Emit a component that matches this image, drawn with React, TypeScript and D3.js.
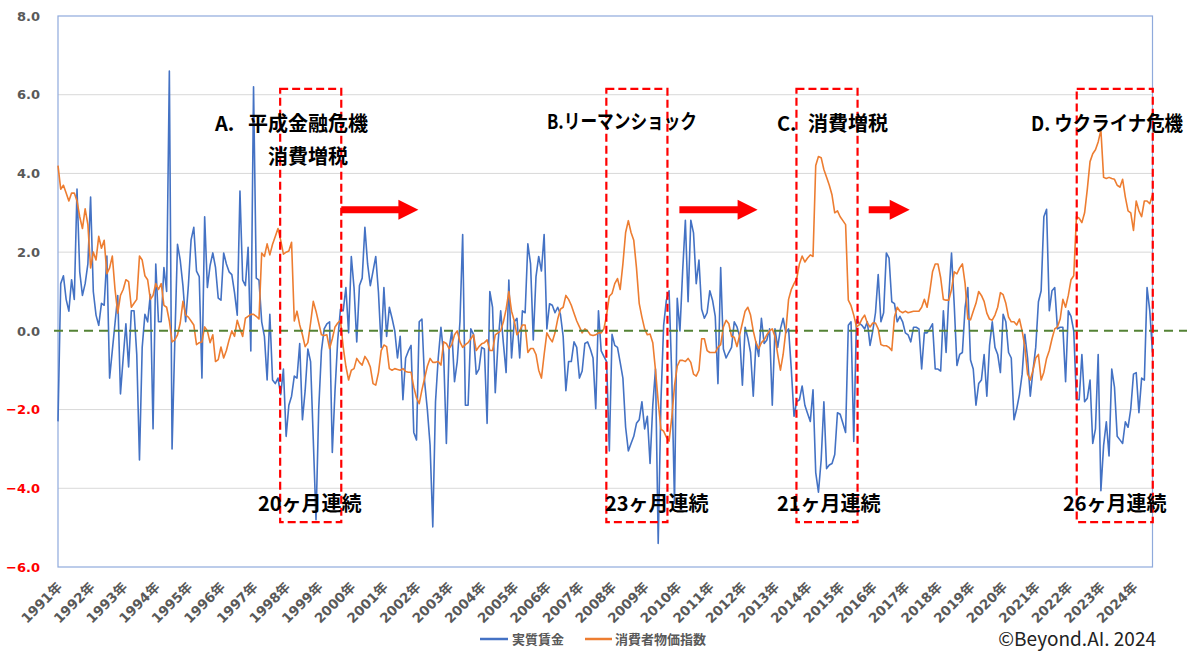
import * as d3 from "d3"

// 実質賃金 (前年同月比 %), 1991年1月〜2024年8月
const realWage: number[] = [
  -2.3, 1.2, 1.4, 0.8, 0.5, 1.3, 0.8, 3.6, 1.5, 0.9, 1.2, 1.7,
  3.4, 1.0, 0.4, 0.14, 0.7, 0.65, 1.9, -1.2, -0.5, 0.2, 0.9, -1.6,
  -0.69, 0.18, -0.92, 0.51, 0.51, -0.6, -3.28, -0.42, 0.42, 0.23, 0.92, -2.49,
  1.7, 0.23, 0.23, 1.61, 1.0, 6.6, -3.0, -0.28, 2.2, 1.8, 1.15, 0.23,
  1.15, 2.31, 2.63, 1.52, 1.38, -1.2, 2.9, 1.1, 1.66, 1.98, 1.61, 0.83,
  0.78, 1.98, 1.7, 1.5, 1.43, 0.97, 0.4, 3.55, 1.29, 1.15, 2.12, -0.51,
  6.2, 1.34, 1.29, 0.23, -0.14, -1.25, 0.42, -1.25, -1.34, -1.2, -1.62, -0.97,
  -2.68, -1.89, -1.66, -1.15, -1.2, -0.32, -2.26, -1.52, -0.46, -0.78, -2.77, -4.8,
  -1.98, -0.51, 0.05, 0.18, 0.23, -3.09, -1.52, -0.23, 0.55, 0.51, 1.1, -0.05,
  1.89, 1.1, -0.28, 1.15, 1.34, 2.63, 1.7, 1.15, 1.52, 1.89, 0.97, -0.42,
  1.1, -0.14, 0.6, 0.32, 0.0, -0.69, -0.14, -1.75, -0.69, -0.51, -0.37, -2.58,
  -2.77, 0.23, 0.3, -1.3, -2.0, -2.9, -4.98, -1.8, -0.69, 0.09, -0.6, -2.86,
  -0.46, 0.0, -1.29, -0.78, 0.23, 2.45, -1.89, -1.89, 0.05, -0.09, -1.1, -0.97,
  -0.42, -0.46, -2.35, 1.0, 0.6, -1.57, -0.32, 0.51, -0.32, -1.06, 1.29, -0.69,
  0.23, 0.32, -0.69, 0.51, 0.46, 2.21, 1.7, -0.23, 1.38, 1.89, 1.52, 2.45,
  0.05, 0.69, 0.65, 0.46, 0.6, 0.42, -0.14, -1.52, -0.78, -0.78, -0.28, -0.42,
  -1.2, -1.02, -0.32, -0.28, -0.46, -0.69, -1.98, 0.51, -0.51, -0.65, -0.78, -3.05,
  -0.09, -0.37, -0.42, -0.8, -1.2, -2.45, -3.05, -2.86, -2.68, -2.35, -2.26, -1.8,
  -2.49, -2.17, -3.37, -1.89, -0.97, -5.4, -1.8, 0.14, 0.78, 1.02, -1.15, -4.38,
  0.83, 0.0, 1.52, 2.81, 0.74, 2.81, 2.49, 1.2, 1.8, 0.55, 0.32, 0.46,
  1.02, 0.78, 0.37, -1.34, 1.61, -0.46, -0.69, -0.55, -0.42, 0.23, 0.1, -0.14,
  -1.38, 0.09, -0.18, -0.55, -1.66, -0.28, -0.65, 0.32, -0.32, -0.23, 0.05, -1.89,
  0.05, -0.42, 0.05, 0.32, -0.05, 0.05, -0.97, -2.17, -1.8, -1.75, -1.4, -1.89,
  -2.1, -2.3, -1.5, -3.6, -4.1, -3.28, -1.8, -3.5, -3.41, -3.37, -3.14, -2.08,
  -2.12, -2.35, -2.58, 0.14, 0.23, -2.81, 0.28, 0.2, 0.14, 0.05, 0.23, -0.37,
  0.0, 0.46, 1.43, 0.23, 0.46, 1.98, 1.85, 0.74, 0.69, 0.23, 0.37, 0.23,
  -0.05, -0.1, -0.28, 0.09, 0.09, 0.05, -0.97, -0.05, -0.05, 0.05, 0.18, -0.97,
  -0.97, -1.02, 0.51, -0.55, 0.88, 1.98, 0.65, -0.88, -0.6, -0.55, 0.6, 1.1,
  -0.74, -0.97, -1.89, -1.34, -1.25, -0.6, -1.66, -0.37, 0.23, -0.42, -0.6, -1.06,
  0.42, 0.23, -0.55, -0.69, -2.26, -1.98, -1.62, -1.1, -0.09, -0.69, -1.66, -1.0,
  -0.42, 0.74, 1.02, 2.9, 3.09, 0.51, 1.02, 1.1, 0.05, 0.09, 0.09, -1.29,
  0.51, 0.37, 0.0, -1.75, -1.75, -0.6, -1.8, -1.71, -1.25, -2.86, -2.49, -0.6,
  -4.06, -2.91, -2.31, -3.18, -0.97, -1.43, -2.68, -2.77, -2.86, -2.31, -2.45, -1.98,
  -1.1, -1.06, -2.08, -1.2, -1.25, 1.1, 0.51, -0.55,
]

// 消費者物価指数 (持家の帰属家賃を除く総合, 前年同月比 %)
const cpi: number[] = [
  4.2, 3.6, 3.7, 3.5, 3.3, 3.5, 3.5, 3.3, 2.9, 2.6, 3.1, 2.7,
  1.6, 2.0, 1.8, 2.4, 2.1, 2.3, 1.45, 1.6, 1.9, 1.05, 0.45, 0.9,
  1.05, 1.3, 1.25, 0.6, 0.7, 0.8, 1.9, 1.8, 1.4, 1.3, 0.8, 0.9,
  1.2, 1.05, 1.2, 0.65, 0.6, 0.25, -0.28, -0.23, -0.1, 0.2, 0.75, 0.4,
  0.35, 0.25, 0.15, -0.35, -0.3, -0.28, 0.1, 0.0, -0.3, -0.1, -0.78, -0.73,
  -0.41, -0.69, -0.5, -0.23, 0.0, -0.14, 0.27, 0.05, -0.14, 0.32, 0.37, 0.42,
  0.42, 0.37, 0.3, 1.98, 1.89, 2.21, 1.93, 2.2, 2.4, 2.6, 2.3, 1.95,
  2.0, 2.03, 2.25, 0.25, 0.5, 0.15, -0.1, -0.4, -0.3, 0.2, 0.75, 0.5,
  0.2, -0.1, -0.12, -0.1, -0.45, -0.2, 0.1, 0.2, 0.27, -0.4, -0.9, -1.25,
  -1.0, -0.96, -0.7, -0.8, -0.87, -0.65, -0.75, -0.92, -1.34, -1.38, -1.06, -0.5,
  -0.36, -0.4, -0.96, -1.0, -0.96, -0.98, -1.0, -0.96, -1.03, -1.05, -1.05, -1.43,
  -1.7, -1.85, -1.5, -1.2, -0.9, -0.7, -0.8, -0.8, -0.78, -0.87, -0.28, -0.32,
  -0.45, -0.35, -0.1, 0.0, -0.28, -0.42, -0.35, -0.3, -0.2, -0.1, -0.5, -0.4,
  -0.33, -0.3, -0.23, -0.5, -0.5, -0.1, -0.05, 0.0, 0.23, 0.55, 1.0, 0.5,
  0.25, -0.1, 0.0, 0.15, 0.15, -0.55, -0.45, -0.45, -0.6, -1.0, -1.2, -0.6,
  -0.05, -0.18, -0.28, -0.05, 0.3, 0.55, 0.6, 0.9, 0.8, 0.65, 0.45, 0.25,
  0.1, -0.05, 0.05, 0.0, -0.1, -0.12, -0.1, -0.05, -0.05, 0.05, 0.4, 0.88,
  0.95, 1.2, 1.33, 1.05, 1.7, 2.5, 2.8, 2.5, 2.3, 1.6, 0.7, 0.35,
  0.05, -0.1, -0.08, -0.3, -1.0, -1.8, -2.5, -2.55, -2.7, -2.8, -2.2, -1.4,
  -0.9, -0.75, -0.75, -0.78, -0.7, -0.8, -1.1, -1.15, -1.0, -0.2, -0.2, -0.5,
  -0.55, -0.55, -0.55, -0.42, -0.35, 0.1, 0.27, 0.18, -0.14, -0.16, -0.4, -0.1,
  0.2, 0.5, 0.6, 0.4, 0.0, -0.3, -0.45, -0.3, -0.23, -0.1, 0.0, 0.05,
  -0.14, -0.6, -1.0, -0.6, 0.0, 0.8, 1.05, 1.2, 1.33, 1.7, 1.9, 1.75,
  1.85, 1.93, 1.89, 4.2, 4.43, 4.4, 4.1, 3.9, 3.7, 3.45, 3.0, 3.05,
  2.9, 2.8, 2.7, 0.78, 0.64, 0.4, 0.1, 0.15, 0.3, 0.4, 0.2, 0.1,
  0.2, 0.2, 0.05, -0.35, -0.38, -0.38, -0.42, -0.5, 0.35, 0.6, 0.5, 0.46,
  0.5, 0.46, 0.48, 0.5, 0.5, 0.5, 0.6, 0.8, 0.6, 1.0, 1.5, 1.7,
  1.7, 1.35, 0.8, 0.78, 0.78, 1.05, 1.5, 1.45, 1.6, 1.7, 1.2, 0.3,
  0.28, 0.5, 0.7, 1.0, 0.9, 0.75, 0.45, 0.3, 0.27, 0.4, 0.6, 0.97,
  0.92, 0.7, 0.35, 0.23, 0.23, 0.15, 0.3, 0.0, -0.4, -1.1, -1.25, -1.0,
  -0.69, -0.6, -1.25, -1.05, -0.7, -0.5, -0.2, 0.05, 0.1, 0.3, 0.8, 0.6,
  0.9, 1.3, 1.4, 2.9, 2.86, 2.75, 3.0, 3.6, 4.3, 4.5, 4.6, 4.8,
  5.1, 3.9, 3.87, 3.9, 3.87, 3.85, 3.7, 3.65, 3.85, 3.4, 3.05, 3.0,
  2.55, 3.3, 3.05, 2.9, 3.3, 3.3, 3.23, 3.46,
]

const years = d3.range(1991, 2025)
const yTicks = [8, 6, 4, 2, 0, -2, -4, -6]

// 実質賃金マイナスの期間 (月インデックス)
const boxFrom = [81.8, 201.9, 271.9, 375.1]
const boxTo = [104.3, 224.4, 294.4, 403.1]
const arrowFrom = [104.3, 228.8, 298.5]
const arrowTo = [132.7, 257.6, 313.6]

const titles: { text: string; x: number; y: number; w?: number }[] = [
  { text: "A.", x: 215, y: 124 },
  { text: "平成金融危機", x: 248, y: 124 },
  { text: "消費増税", x: 268, y: 157 },
  { text: "B.リーマンショック", x: 547, y: 122, w: 150 },
  { text: "C.", x: 777, y: 124 },
  { text: "消費増税", x: 808, y: 124 },
  { text: "D. ウクライナ危機", x: 1031, y: 124, w: 152 },
  { text: "20ヶ月連続", x: 258, y: 504 },
  { text: "23ヶ月連続", x: 605, y: 504 },
  { text: "21ヶ月連続", x: 777, y: 504 },
  { text: "26ヶ月連続", x: 1063, y: 504 },
]

const W = 1200
const H = 661
const left = 58
const right = 1152.5
const top = 16
const bottom = 567

const BLUE = "#4472c4"
const ORANGE = "#ed7d31"
const JP = "'Noto Sans CJK JP', 'Noto Sans', sans-serif"
const NUM = "'DejaVu Sans', 'Noto Sans CJK JP', sans-serif"

export default function App() {
  const n = realWage.length
  const x = d3.scaleLinear().domain([0, n - 1]).range([left, right])
  const y = d3.scaleLinear().domain([-6, 8]).range([bottom, top])

  const line = d3
    .line<number>()
    .x((_, i) => x(i))
    .y((d) => y(d))

  const arrowLevel = 3.08

  return (
    <div style={{ position: "absolute", left: 0, top: 0 }}>
      <svg width={W} height={H} style={{ display: "block", background: "#fff" }}>
        {/* gridlines */}
        {yTicks
          .filter((t) => t !== 0 && t !== 8 && t !== -6)
          .map((t) => (
            <line key={t} x1={left} x2={right} y1={y(t)} y2={y(t)} stroke="#d9d9d9" strokeWidth={1} />
          ))}

        {/* plot border */}
        <rect
          x={left}
          y={top}
          width={right - left}
          height={bottom - top}
          fill="none"
          stroke="#8faadc"
          strokeWidth={1.2}
        />

        {/* y tick labels */}
        {yTicks.map((t) => (
          <text
            key={t}
            x={40}
            y={y(t)}
            dy="0.36em"
            textAnchor="end"
            fontFamily={NUM}
            fontWeight={700}
            fontSize={13}
            fill={t < 0 ? "#ff0000" : "#595959"}
          >
            {d3.format(".1f")(t)}
          </text>
        ))}

        {/* x tick labels */}
        {years.map((yr, k) => {
          const tx = x(k * 12) + 5
          const ty = 588
          return (
            <text
              key={yr}
              transform={`translate(${tx},${ty}) rotate(-45)`}
              textAnchor="end"
              fontFamily={NUM}
              fontWeight={700}
              fontSize={13.5}
              fill="#595959"
            >
              {yr}年
            </text>
          )
        })}

        {/* series */}
        <path d={line(realWage) ?? ""} fill="none" stroke={BLUE} strokeWidth={1.6} strokeLinejoin="round" />
        <path d={line(cpi) ?? ""} fill="none" stroke={ORANGE} strokeWidth={1.6} strokeLinejoin="round" />

        {/* zero line */}
        <line
          x1={54}
          x2={1187}
          y1={y(0)}
          y2={y(0)}
          stroke="#548235"
          strokeWidth={2}
          strokeDasharray="9,6"
        />

        {/* red dashed boxes */}
        {boxFrom.map((f, i) => (
          <rect
            key={i}
            x={x(f)}
            y={y(6.15)}
            width={x(boxTo[i]) - x(f)}
            height={y(-4.86) - y(6.15)}
            fill="none"
            stroke="#ff0000"
            strokeWidth={2.2}
            strokeDasharray="8,4"
          />
        ))}

        {/* arrows */}
        {arrowFrom.map((f, i) => {
          const x1 = x(f)
          const x2 = x(arrowTo[i])
          const cy = y(arrowLevel)
          const head = 20
          const p = d3.path()
          p.moveTo(x1, cy - 3.5)
          p.lineTo(x2 - head, cy - 3.5)
          p.lineTo(x2 - head, cy - 10)
          p.lineTo(x2, cy)
          p.lineTo(x2 - head, cy + 10)
          p.lineTo(x2 - head, cy + 3.5)
          p.lineTo(x1, cy + 3.5)
          p.closePath()
          return <path key={i} d={p.toString()} fill="#ff0000" />
        })}

        {/* annotations */}
        {titles.map((t, i) => (
          <text
            key={i}
            x={t.x}
            y={t.y}
            dy="0.36em"
            fontFamily={JP}
            fontWeight={700}
            fontSize={20}
            fill="#000"
            textLength={t.w}
            lengthAdjust={t.w ? "spacingAndGlyphs" : undefined}
          >
            {t.text}
          </text>
        ))}

        {/* legend */}
        <line x1={480} x2={508} y1={639} y2={639} stroke={BLUE} strokeWidth={2.5} />
        <text x={512} y={639} dy="0.36em" fontFamily={JP} fontWeight={700} fontSize={13} fill="#595959">
          実質賃金
        </text>
        <line x1={585} x2={612} y1={639} y2={639} stroke={ORANGE} strokeWidth={2.5} />
        <text x={615} y={639} dy="0.36em" fontFamily={JP} fontWeight={700} fontSize={13} fill="#595959">
          消費者物価指数
        </text>

        {/* credit */}
        <text x={1156} y={646} textAnchor="end" fontFamily={JP} fontSize={19} fill="#222">
          ©Beyond.AI. 2024
        </text>
      </svg>
    </div>
  )
}
